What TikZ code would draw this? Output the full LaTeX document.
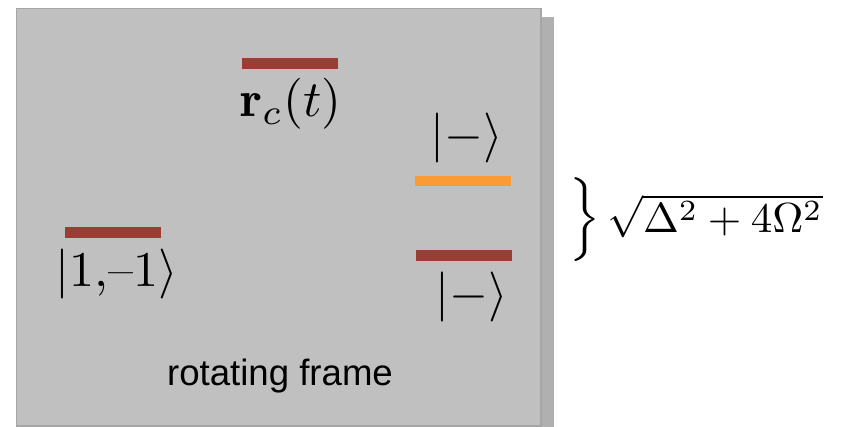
\documentclass[tikz,border=0pt]{standalone}
\usepackage{amsmath}
\usepackage{graphicx}
\usepackage{fontspec}
\newfontfamily\arialf{Liberation Sans}
\definecolor{panelgray}{HTML}{C0C0C0}
\definecolor{panelline}{HTML}{A6A6A6}
\definecolor{shadowgray}{HTML}{B0B0B0}
\definecolor{barred}{HTML}{9A3E35}
\definecolor{barorange}{HTML}{FA9B35}
\newcommand{\bigmath}[2]{\scalebox{#1}{$#2$}}
\tikzset{
  levelbar/.style={rectangle, inner sep=0pt, draw=none, minimum width=48pt, minimum height=5.5pt},
  redbar/.style={levelbar, fill=barred},
  orangebar/.style={levelbar, fill=barorange, minimum height=5pt},
  mlabel/.style={inner sep=0pt, anchor=base},
}
\begin{document}
\begin{tikzpicture}[x=0.5pt,y=-0.5pt]
\useasboundingbox (0,0) rectangle (842,427);
% shadow and panel
\fill[shadowgray] (541,17) rectangle (554,427);
\draw[panelline, fill=panelgray, line width=0.6pt] (16.5,8.5) rectangle (541,426);
% levels
\node[redbar] (barrc) at (290,63.5) {};
\node[mlabel] (lrc) at (291,117) {\bigmath{2.55}{\mathbf{r}_c(t)}};
\node[redbar] (barone) at (112.5,232.5) {};
\node[mlabel] (lone) at (117,287) {\bigmath{2.5}{|1{,}\mbox{\textendash}1\rangle}};
\node[orangebar] (barup) at (463,181) {};
\node[mlabel] (lup) at (467,150.5) {\bigmath{2.5}{|-\rangle}};
\node[redbar] (barlow) at (463.5,255.5) {};
\node[mlabel] (llow) at (472,309.5) {\bigmath{2.5}{|-\rangle}};
% splitting
\node[inner sep=0pt, anchor=center] (brace) at (585,220) {\bigmath{2.33}{\Big\}}};
\node[inner sep=0pt, anchor=base west] (split) at (607,233) {\scalebox{2.15}[2.1]{$\sqrt{\Delta^2+4\Omega^2}$}};
% caption
\node[inner sep=0pt, anchor=base, font=\arialf\fontsize{18.3}{22}\selectfont] (cap) at (280,386) {rotating frame};
\end{tikzpicture}
\end{document}
